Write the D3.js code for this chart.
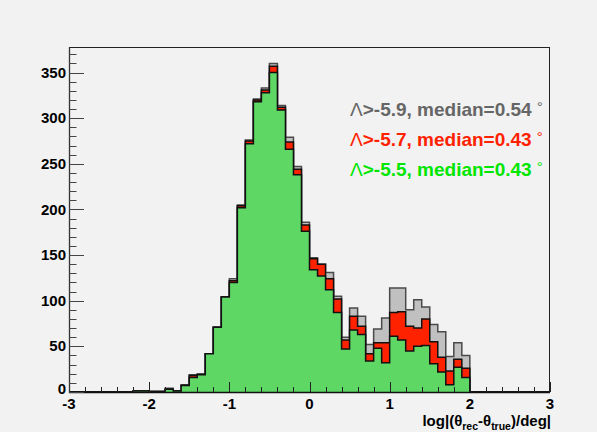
<!DOCTYPE html>
<html>
<head>
<meta charset="utf-8">
<script src="https://cdn.jsdelivr.net/npm/d3@7"></script>
<style>
  html, body { margin: 0; padding: 0; background: #f2f2f2; }
  svg { display: block; }
  text { font-family: "Liberation Sans", Arial, Helvetica, sans-serif; }
</style>
</head>
<body>
<svg id="chart" width="597" height="432"></svg>
<script>
// ---- data ----
const xMin = -3, xMax = 3, binWidth = 0.1;
const binLow = d3.range(60).map(i => +(xMin + i * binWidth).toFixed(2));
// counts per bin (60 bins from -3 to 3)
const lambda59 = [0,0,0,0,0,0,0,0,1,1, 1,1,4,1,8,19,20,42,71,104,
                  124,205,276,321,333,360,314,279,247,186, 147,140,131,105,60,92,83,52,69,81,
                  114,114,90,101,93,74,66,39,54,40, 0,0,0,0,0,0,0,0,0,0];
const lambda57 = [0,0,0,0,0,0,0,0,1,1, 0,0,3,1,7,18,19,42,71,104,
                  122,204,275,320,331,357,312,274,244,183, 146,140,124,102,57,83,72,42,54,54,
                  87,88,72,70,80,55,38,23,36,26, 0,0,0,0,0,0,0,0,0,0];
const lambda55 = [0,0,0,0,0,0,0,0,1,1, 0,0,3,1,7,16,19,42,71,104,
                  120,202,272,318,328,350,309,266,238,176, 134,127,112,87,47,68,63,34,48,32,
                  61,57,45,50,51,31,22,8,27,16, 0,0,0,0,0,0,0,0,0,0];
const legendLabels = ["Λ>-5.9, median=0.54", "Λ>-5.7, median=0.43", "Λ>-5.5, median=0.43"];
const xTicks = [-3, -2, -1, 0, 1, 2, 3];
const yTicks = [0, 50, 100, 150, 200, 250, 300, 350];
const yMax = 378;

// ---- layout ----
const frame = { left: 69, right: 550, top: 47, bottom: 392 };
const svg = d3.select("#chart");
svg.append("rect").attr("width", 597).attr("height", 432).attr("fill", "#f2f2f2");

const x = d3.scaleLinear().domain([xMin, xMax]).range([frame.left, frame.right]);
const y = d3.scaleLinear().domain([0, yMax]).range([frame.bottom, frame.top]);

svg.append("clipPath").attr("id", "clip").append("rect")
  .attr("x", frame.left).attr("y", frame.top)
  .attr("width", frame.right - frame.left).attr("height", frame.bottom - frame.top);

function stepPoints(vals) {
  const pts = [[xMin, 0]];
  vals.forEach((v, i) => {
    pts.push([binLow[i], v]);
    pts.push([binLow[i] + binWidth, v]);
  });
  pts.push([xMax, 0]);
  return pts;
}
const area = d3.area().x(d => x(d[0])).y0(y(0)).y1(d => y(d[1]));
const line = d3.line().x(d => x(d[0])).y(d => y(d[1]));

const series = [
  { vals: lambda59, fill: "#c0c0c0", stroke: "#4a4a4a", text: "#666666" },
  { vals: lambda57, fill: "#ff2200", stroke: "#111111", text: "#ff2200" },
  { vals: lambda55, fill: "#5ed764", stroke: "#111111", text: "#00e600" }
];

const g = svg.append("g").attr("clip-path", "url(#clip)");
series.forEach(s => {
  const pts = stepPoints(s.vals);
  g.append("path").attr("d", area(pts)).attr("fill", s.fill);
  g.append("path").attr("d", line(pts)).attr("fill", "none")
    .attr("stroke", s.stroke).attr("stroke-width", 1.5);
});

// ---- frame ----
svg.append("rect")
  .attr("x", frame.left + 0.5).attr("y", frame.top + 0.5)
  .attr("width", frame.right - frame.left - 1).attr("height", frame.bottom - frame.top)
  .attr("fill", "none").attr("stroke", "#222").attr("stroke-width", 1);

// ---- x axis ----
const xAx = svg.append("g");
xAx.append("line").attr("x1", frame.left).attr("x2", frame.right)
  .attr("y1", frame.bottom + 0.5).attr("y2", frame.bottom + 0.5)
  .attr("stroke", "#111").attr("stroke-width", 1.3);
d3.range(0, 31).forEach(i => {
  const v = xMin + i * 0.2;
  const major = i % 5 === 0;
  const px = Math.round(x(v)) + 0.5;
  xAx.append("line").attr("x1", px).attr("x2", px)
    .attr("y1", frame.bottom).attr("y2", frame.bottom - (major ? 10 : 5))
    .attr("stroke", "#222").attr("stroke-width", 1);
});
xAx.selectAll("text.xt").data(xTicks).join("text").attr("class", "xt")
  .attr("x", d => x(d)).attr("y", 409)
  .attr("text-anchor", "middle").attr("font-size", 15).attr("font-weight", "bold")
  .attr("fill", "#000").text(d => d);

// x-axis title
const xt = svg.append("text").attr("x", 551).attr("y", 426)
  .attr("text-anchor", "end").attr("font-size", 15).attr("font-weight", "bold").attr("fill", "#000");
xt.append("tspan").text("log|(θ");
xt.append("tspan").attr("font-size", 10.5).attr("dy", 4).text("rec");
xt.append("tspan").attr("dy", -4).text("-θ");
xt.append("tspan").attr("font-size", 10.5).attr("dy", 4).text("true");
xt.append("tspan").attr("dy", -4).text(")/deg|");

// ---- y axis ----
const yAx = svg.append("g");
yAx.append("line").attr("x1", frame.left + 0.5).attr("x2", frame.left + 0.5)
  .attr("y1", frame.top).attr("y2", frame.bottom + 1)
  .attr("stroke", "#333").attr("stroke-width", 1.3);
d3.range(0, 38).forEach(i => {
  const v = i * 10;
  if (v > yMax) return;
  const major = i % 5 === 0;
  const py = Math.round(y(v)) + 0.5;
  yAx.append("line").attr("x1", frame.left).attr("x2", frame.left + (major ? 15 : 7.5))
    .attr("y1", py).attr("y2", py).attr("stroke", "#444").attr("stroke-width", 1);
});
yAx.selectAll("text.yt").data(yTicks).join("text").attr("class", "yt")
  .attr("x", 66).attr("y", d => y(d) - (d === 0 ? 3 : 0)).attr("dy", "0.34em")
  .attr("text-anchor", "end").attr("font-size", 15).attr("font-weight", "bold")
  .attr("fill", "#000").text(d => d);

// ---- legend texts ----
const legendY = [116, 146, 176];
series.forEach((s, i) => {
  const t = svg.append("text").attr("x", 350).attr("y", legendY[i])
    .attr("font-size", 19).attr("font-weight", "bold").attr("fill", s.text);
  const lab = legendLabels[i];
  t.append("tspan").attr("font-weight", "normal").text(lab.slice(0, 1));
  t.append("tspan").text(lab.slice(1));
  t.append("tspan").attr("font-weight", "normal").attr("font-size", 15).attr("dx", 5).attr("dy", -4).text("°");
});
</script>
</body>
</html>
